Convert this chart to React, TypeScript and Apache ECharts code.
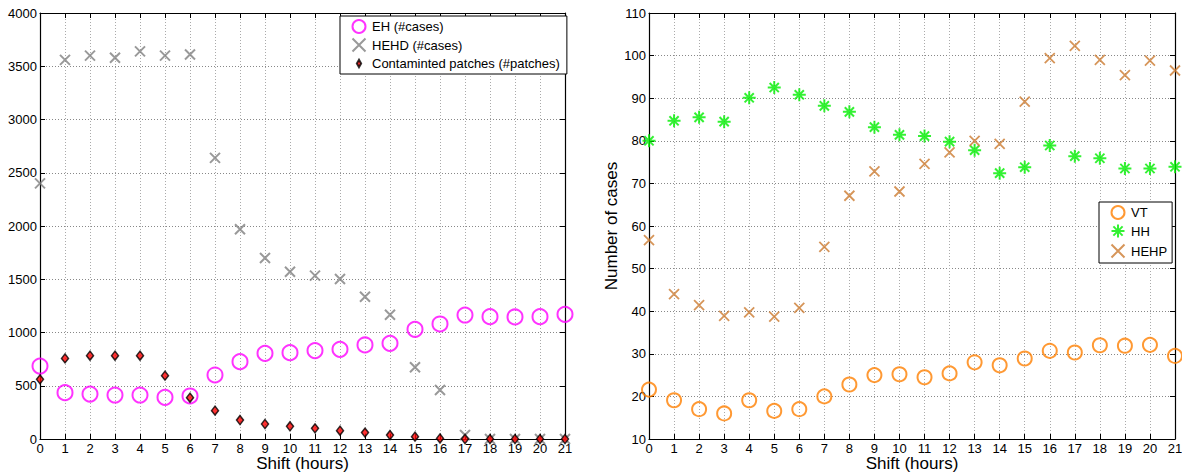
import React, { useEffect, useRef } from "react";
import * as echarts from "echarts";

// Shift in hours (x axis of both panels)
const hours = [0, 1, 2, 3, 4, 5, 6, 7, 8, 9, 10, 11, 12, 13, 14, 15, 16, 17, 18, 19, 20, 21];

// Left panel
const ehCases = [685, 435, 422, 413, 413, 391, 404, 601, 726, 804, 811, 830, 842, 883, 898, 1030, 1080, 1164, 1149, 1146, 1149, 1171];
const hehdCases = [2400, 3560, 3600, 3580, 3640, 3600, 3610, 2640, 1970, 1700, 1571, 1534, 1502, 1336, 1167, 673, 460, 37, 0, 0, 0, 0];
const contaminatedPatches = [560, 757, 782, 782, 782, 595, 388, 266, 178, 141, 119, 100, 78, 60, 37, 22, 5, 0, 0, 0, 0, 0];

// Right panel
const vtCases = [21.6, 19.1, 17.0, 16.0, 19.1, 16.6, 17.0, 20.0, 22.8, 25.0, 25.2, 24.5, 25.4, 28.0, 27.3, 28.9, 30.7, 30.3, 32.0, 31.9, 32.1, 29.5];
const hhCases = [80.0, 84.7, 85.5, 84.5, 90.1, 92.5, 90.8, 88.2, 86.8, 83.2, 81.4, 81.1, 79.8, 77.8, 72.4, 73.8, 78.9, 76.4, 75.9, 73.5, 73.5, 73.9];
const hehpCases = [56.7, 44.0, 41.4, 38.9, 39.7, 38.7, 40.8, 55.1, 67.1, 72.8, 68.1, 74.6, 77.3, 80.0, 79.3, 89.2, 99.4, 102.3, 99.0, 95.4, 98.8, 96.5];

const FONT = "Liberation Sans, Arial, Helvetica, sans-serif";
const X_MARK = "path://M0,0L10,10M10,0L0,10";
const STAR_MARK = "path://M5,0L5,10M0,5L10,5M1.46,1.46L8.54,8.54M8.54,1.46L1.46,8.54";
// small diamond inside a larger (move-only) bounding box, for the legend entry
const SMALL_DIAMOND = "path://M0,0M14,14M7,3L9.3,7L7,11L4.7,7Z";

const pairs = (ys: number[]) => hours.map((h, i) => [h, ys[i]]);

function frameAxes(gridIndex: number, kind: "x" | "y", min: number, max: number, interval: number, withLabels: boolean, name?: string) {
  const gridLine = {
    show: true,
    lineStyle: { color: kind === "x" ? "#aaaaaa" : "#888888", type: [1, 2], width: 1 },
  };
  const common = {
    gridIndex,
    type: "value",
    min,
    max,
    interval,
    axisLine: { show: true, onZero: false, lineStyle: { color: "#000", width: 1.2 } },
    axisTick: { show: true, inside: true, length: 5, lineStyle: { color: "#000", width: 1 } },
    splitLine: { show: false },
    axisLabel: { show: false },
  };
  const main: any = {
    ...common,
    position: kind === "x" ? "bottom" : "left",
    splitLine: gridLine,
    axisLabel: {
      show: withLabels,
      color: "#000",
      fontSize: 13,
      lineHeight: 13,
      fontFamily: FONT,
      margin: 3,
      formatter: (v: number) => String(v),
    },
  };
  if (name) {
    main.name = name;
    main.nameLocation = "middle";
    main.nameTextStyle = { color: "#000", fontSize: 17, lineHeight: 17, fontFamily: FONT };
    if (kind === "x") {
      main.nameMoveOverlap = false;
      main.nameGap = 16;
    } else {
      main.nameGap = 28;
    }
  }
  const opposite: any = { ...common, position: kind === "x" ? "top" : "right" };
  return [main, opposite];
}

export default function App() {
  const ref = useRef<HTMLDivElement>(null);

  useEffect(() => {
    if (!ref.current) return;
    const chart = echarts.init(ref.current, undefined, { renderer: "svg" });

    const xAxes = [
      ...frameAxes(0, "x", 0, 21, 1, true, "Shift (hours)"),
      ...frameAxes(1, "x", 0, 21, 1, true, "Shift (hours)"),
    ];
    const yAxes = [
      ...frameAxes(0, "y", 0, 4000, 500, true),
      ...frameAxes(1, "y", 10, 110, 10, true, "Number of cases"),
    ];

    const legendBase = {
      orient: "vertical",
      borderColor: "#000",
      borderWidth: 1,
      backgroundColor: "#fff",
      itemGap: 2,
      itemWidth: 16,
      itemHeight: 13,
      textStyle: { color: "#000", fontSize: 13, fontFamily: FONT },
    };

    chart.setOption({
      animation: false,
      backgroundColor: "#fff",
      grid: [
        { left: 40, top: 13, width: 525, height: 426, outerBoundsMode: "none", containLabel: false },
        { left: 649, top: 13, width: 526, height: 426, outerBoundsMode: "none", containLabel: false },
      ],
      xAxis: xAxes,
      yAxis: yAxes,
      legend: [
        {
          ...legendBase,
          left: 340,
          top: 16,
          padding: [3, 7, 3, 10],
          data: [
            "EH (#cases)",
            "HEHD (#cases)",
            { name: "Contaminted patches (#patches)", icon: SMALL_DIAMOND },
          ],
        },
        {
          ...legendBase,
          left: 1099,
          top: 202,
          padding: [3, 5, 3, 10],
          data: ["VT", "HH", "HEHP"],
        },
      ],
      series: [
        {
          name: "EH (#cases)",
          type: "scatter",
          xAxisIndex: 0,
          yAxisIndex: 0,
          symbol: "circle",
          symbolSize: 15,
          itemStyle: { color: "transparent", borderColor: "#ff00ff", borderWidth: 2 },
          data: pairs(ehCases),
        },
        {
          name: "HEHD (#cases)",
          type: "scatter",
          xAxisIndex: 0,
          yAxisIndex: 0,
          symbol: X_MARK,
          symbolSize: 10,
          itemStyle: { color: "none", borderColor: "#808080", borderWidth: 2 },
          data: pairs(hehdCases),
        },
        {
          name: "Contaminted patches (#patches)",
          type: "scatter",
          xAxisIndex: 0,
          yAxisIndex: 0,
          symbol: "diamond",
          symbolSize: [7, 9],
          itemStyle: { color: "#ff0000", borderColor: "#000", borderWidth: 1.5 },
          data: pairs(contaminatedPatches),
        },
        {
          name: "VT",
          type: "scatter",
          xAxisIndex: 2,
          yAxisIndex: 2,
          symbol: "circle",
          symbolSize: 14,
          itemStyle: { color: "transparent", borderColor: "#ff8000", borderWidth: 2 },
          data: pairs(vtCases),
        },
        {
          name: "HH",
          type: "scatter",
          xAxisIndex: 2,
          yAxisIndex: 2,
          symbol: STAR_MARK,
          symbolSize: 13,
          itemStyle: { color: "none", borderColor: "#00ee00", borderWidth: 2 },
          data: pairs(hhCases),
        },
        {
          name: "HEHP",
          type: "scatter",
          xAxisIndex: 2,
          yAxisIndex: 2,
          symbol: X_MARK,
          symbolSize: 10,
          itemStyle: { color: "none", borderColor: "#cc7a30", borderWidth: 1.8 },
          data: pairs(hehpCases),
        },
      ],
    });

    return () => chart.dispose();
  }, []);

  return (
    <div
      ref={ref}
      style={{ position: "fixed", left: 0, top: 0, width: 1182, height: 472, background: "#fff" }}
    />
  );
}
